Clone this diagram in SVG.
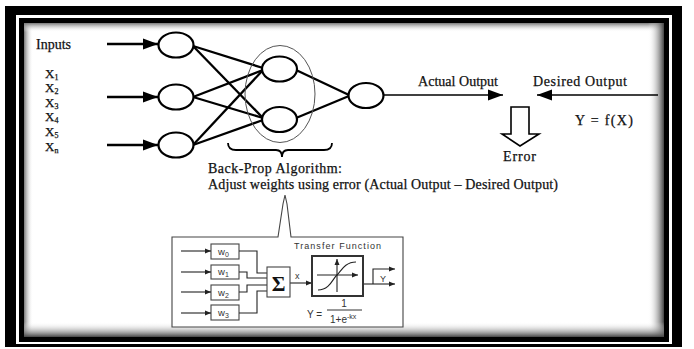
<svg xmlns="http://www.w3.org/2000/svg" width="694" height="349" viewBox="0 0 694 349">
<style>
.serif{font-family:"Liberation Serif","Times New Roman",serif;fill:#111;stroke:#111;stroke-width:0.25}
.sans{font-family:"Liberation Sans",Arial,sans-serif;fill:#333}
.node{fill:#fff;stroke:#000;stroke-width:2.2}
.conn{stroke:#000;stroke-width:2.3;fill:none}
.thin{stroke:#222;stroke-width:1.1;fill:none}
.box{fill:#fff;stroke:#444;stroke-width:1.1}
</style>
<defs>
<marker id="big" markerUnits="userSpaceOnUse" markerWidth="16" markerHeight="12" refX="15" refY="6" orient="auto"><path d="M0,0.5 L15,6 L0,11.5 z" fill="#000"/></marker>
<marker id="small" markerUnits="userSpaceOnUse" markerWidth="7" markerHeight="6" refX="6" refY="3" orient="auto"><path d="M0,0.5 L6,3 L0,5.5 z" fill="#222"/></marker>
<linearGradient id="gl" x1="0" y1="0" x2="1" y2="0"><stop offset="0" stop-color="#777"/><stop offset="1" stop-color="#fff" stop-opacity="0"/></linearGradient>
<linearGradient id="gt" x1="0" y1="0" x2="0" y2="1"><stop offset="0" stop-color="#777"/><stop offset="1" stop-color="#fff" stop-opacity="0"/></linearGradient>
<linearGradient id="gr" x1="1" y1="0" x2="0" y2="0"><stop offset="0" stop-color="#444"/><stop offset="1" stop-color="#fff" stop-opacity="0"/></linearGradient>
<linearGradient id="gb" x1="0" y1="1" x2="0" y2="0"><stop offset="0" stop-color="#444"/><stop offset="1" stop-color="#fff" stop-opacity="0"/></linearGradient>
</defs>

<g id="frame">
<rect x="0" y="0" width="694" height="349" fill="#fff"/>
<rect x="5" y="6" width="677" height="341" fill="#000"/>
<rect x="16" y="15" width="656" height="329" fill="#fff"/>
<rect x="19" y="18" width="650" height="324" fill="#000"/>
<rect x="24" y="23" width="640" height="314" fill="#fff"/>
<rect x="24" y="23" width="9" height="314" fill="url(#gl)"/>
<rect x="24" y="23" width="640" height="9" fill="url(#gt)"/>
<rect x="648" y="23" width="16" height="314" fill="url(#gr)"/>
<rect x="24" y="322" width="640" height="15" fill="url(#gb)"/>
</g>

<g id="labels-left">
<text class="serif" x="36" y="49" font-size="14">Inputs</text>
<text class="serif" x="45" y="78" font-size="13">X<tspan font-size="8" dy="2">1</tspan></text>
<text class="serif" x="45" y="92" font-size="13">X<tspan font-size="8" dy="2">2</tspan></text>
<text class="serif" x="45" y="107" font-size="13">X<tspan font-size="8" dy="2">3</tspan></text>
<text class="serif" x="45" y="121" font-size="13">X<tspan font-size="8" dy="2">4</tspan></text>
<text class="serif" x="45" y="136" font-size="13">X<tspan font-size="8" dy="2">5</tspan></text>
<text class="serif" x="45" y="151" font-size="13">X<tspan font-size="8" dy="2">n</tspan></text>
</g>

<g id="connectors">
<line class="conn" x1="107" y1="44" x2="158" y2="44" marker-end="url(#big)"/>
<line class="conn" x1="107" y1="97" x2="158" y2="97" marker-end="url(#big)"/>
<line class="conn" x1="107" y1="145" x2="158" y2="145" marker-end="url(#big)"/>
<line class="conn" x1="193" y1="46" x2="263" y2="68"/>
<line class="conn" x1="193" y1="46" x2="263" y2="118"/>
<line class="conn" x1="193" y1="97" x2="263" y2="70"/>
<line class="conn" x1="193" y1="97" x2="263" y2="118"/>
<line class="conn" x1="193" y1="145" x2="263" y2="70"/>
<line class="conn" x1="193" y1="145" x2="263" y2="120"/>
<line class="conn" x1="296" y1="70" x2="349" y2="95"/>
<line class="conn" x1="296" y1="118" x2="349" y2="96"/>
<line stroke="#000" stroke-width="1.6" x1="383" y1="95" x2="503" y2="95" marker-end="url(#big)"/>
<line stroke="#000" stroke-width="1.6" x1="658" y1="95" x2="537" y2="95" marker-end="url(#big)"/>
<path d="M228,143 Q228,150 236,150 L276,150 Q282,150 282,157 Q282,150 288,150 L324,150 Q332,150 332,143" fill="none" stroke="#000" stroke-width="1.8"/>
</g>

<g id="layer-ellipse"><ellipse cx="280" cy="94" rx="35" ry="48.5" fill="none" stroke="#555" stroke-width="1"/></g>
<g id="in1"><ellipse class="node" cx="176" cy="45" rx="17.5" ry="12.5"/></g>
<g id="in2"><ellipse class="node" cx="176" cy="97" rx="17.5" ry="12.5"/></g>
<g id="in3"><ellipse class="node" cx="176" cy="145" rx="17.5" ry="12.5"/></g>
<g id="h1"><ellipse class="node" cx="279.5" cy="69" rx="17.5" ry="12.5"/></g>
<g id="h2"><ellipse class="node" cx="279.5" cy="119.5" rx="17.5" ry="12.5"/></g>
<g id="out"><ellipse class="node" cx="366" cy="95.5" rx="17.5" ry="12.5"/></g>

<g id="output-labels">
<text class="serif" x="418" y="86" font-size="14" textLength="80">Actual Output</text>
<text class="serif" x="533" y="86" font-size="14" textLength="94">Desired Output</text>
<text class="serif" x="575" y="125" font-size="14" textLength="58">Y = f(X)</text>
</g>

<g id="error">
<polygon points="511,107 529,107 529,134 539,134 520,146 502,134 511,134" fill="#fff" stroke="#000" stroke-width="1.6"/>
<text class="serif" x="503" y="161" font-size="14" textLength="33">Error</text>
</g>

<g id="backprop-text">
<text class="serif" x="208" y="173" font-size="14" textLength="134">Back-Prop Algorithm:</text>
<text class="serif" x="208" y="189" font-size="14" textLength="350">Adjust weights using error (Actual Output – Desired Output)</text>
</g>

<g id="neuron-callout">
<path class="box" d="M172,237 H278 L283,204 L285,195 L287,204 L291,237 H403 V327 H172 Z"/>
<g id="w-boxes">
<rect class="box" x="211" y="244" width="28" height="15"/>
<rect class="box" x="211" y="265" width="28" height="14"/>
<rect class="box" x="211" y="285" width="28" height="15"/>
<rect class="box" x="211" y="305" width="28" height="15"/>
<text class="sans" x="218" y="255" font-size="9.5">w<tspan font-size="7" dy="2">0</tspan></text>
<text class="sans" x="218" y="275" font-size="9.5">w<tspan font-size="7" dy="2">1</tspan></text>
<text class="sans" x="218" y="296" font-size="9.5">w<tspan font-size="7" dy="2">2</tspan></text>
<text class="sans" x="218" y="316" font-size="9.5">w<tspan font-size="7" dy="2">3</tspan></text>
</g>
<g id="inner-connectors">
<line class="thin" x1="181" y1="251" x2="211" y2="251" marker-end="url(#small)"/>
<line class="thin" x1="181" y1="272" x2="211" y2="272" marker-end="url(#small)"/>
<line class="thin" x1="181" y1="292" x2="211" y2="292" marker-end="url(#small)"/>
<line class="thin" x1="181" y1="313" x2="211" y2="313" marker-end="url(#small)"/>
<path class="thin" d="M239,251 H257 V273 H267"/>
<path class="thin" d="M239,272 H247 V278 H267"/>
<path class="thin" d="M239,292 H247 V285 H267"/>
<path class="thin" d="M239,313 H257 V291 H267"/>
<line class="thin" x1="290" y1="283" x2="312" y2="283" marker-end="url(#small)"/>
<path class="thin" d="M363,284 H395" marker-end="url(#small)"/>
<path class="thin" d="M373,284 V269 H395" marker-end="url(#small)"/>
</g>
<g id="sigma">
<rect class="box" x="267" y="267" width="23" height="30" stroke="#222"/>
<text x="278.5" y="290.5" font-size="21" font-weight="bold" text-anchor="middle" font-family="Liberation Serif, serif" fill="#111">Σ</text>
<text class="sans" x="295" y="279" font-size="9">x</text>
</g>
<g id="transfer">
<text class="sans" x="294" y="249" font-size="9" textLength="87">Transfer Function</text>
<rect x="312" y="256" width="51" height="40" fill="#fff" stroke="#333" stroke-width="2"/>
<line class="thin" x1="317" y1="275" x2="358" y2="275" marker-end="url(#small)"/>
<line class="thin" x1="337" y1="292" x2="337" y2="259" marker-end="url(#small)"/>
<path class="thin" d="M318,290 C330,290 333,278 337,275 C341,271 345,262 356,262"/>
<text class="sans" x="380" y="282" font-size="9">Y</text>
<text class="sans" x="307" y="318" font-size="10">Y =</text>
<text class="sans" x="344" y="307" font-size="10" text-anchor="middle">1</text>
<line x1="327" y1="310" x2="362" y2="310" stroke="#333" stroke-width="1"/>
<text class="sans" x="330" y="323" font-size="10">1+e<tspan font-size="7" dy="-4">-kx</tspan></text>
</g>
</g>
</svg>
